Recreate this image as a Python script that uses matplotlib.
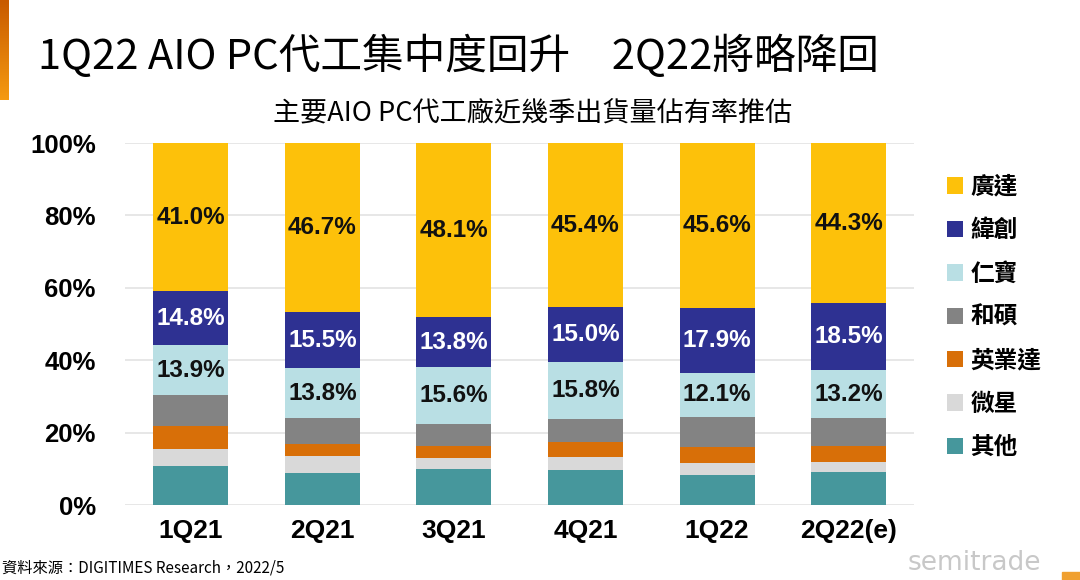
import numpy as np
import matplotlib
matplotlib.use("Agg")
import matplotlib.pyplot as plt
from matplotlib.patches import Rectangle

plt.rcParams["font.family"] = ["Liberation Sans", "Noto Sans CJK TC", "DejaVu Sans"]

quarters = ["1Q21", "2Q21", "3Q21", "4Q21", "1Q22", "2Q22(e)"]
# stacked bottom -> top
others = [10.8, 8.9, 9.9, 9.7, 8.3, 9.0]      # 其他
msi = [4.6, 4.6, 3.0, 3.5, 3.2, 3.0]          # 微星
inventec = [6.3, 3.4, 3.4, 4.3, 4.6, 4.3]     # 英業達
pegatron = [8.6, 7.1, 6.2, 6.3, 8.3, 7.7]     # 和碩
compal = [13.9, 13.8, 15.6, 15.8, 12.1, 13.2]  # 仁寶
wistron = [14.8, 15.5, 13.8, 15.0, 17.9, 18.5]  # 緯創
quanta = [41.0, 46.7, 48.1, 45.4, 45.6, 44.3]  # 廣達

series = [
    ("其他", others, "#46979c", None),
    ("微星", msi, "#d9d9d9", None),
    ("英業達", inventec, "#d86f08", None),
    ("和碩", pegatron, "#838383", None),
    ("仁寶", compal, "#b9dfe4", "#111111"),
    ("緯創", wistron, "#2e3192", "white"),
    ("廣達", quanta, "#fdc10a", "#111111"),
]

fig = plt.figure(figsize=(10.8, 5.8), dpi=100)
ax = fig.add_axes([0.1157, 0.1293, 0.731, 0.6241])

x = np.arange(len(quarters))
bottom = np.zeros(len(quarters))
handles = []
for name, vals, color, txt in series:
    vals = np.array(vals)
    b = ax.bar(x, vals, 0.57, bottom=bottom, color=color, label=name, zorder=3)
    handles.append(b)
    if txt is not None:
        for xi, v, b0 in zip(x, vals, bottom):
            ax.text(xi, b0 + v / 2, f"{v:.1f}%", ha="center", va="center",
                    color=txt, fontsize=17.5, fontweight="bold", zorder=4)
    bottom += vals

ax.set_xlim(-0.5, 5.5)
ax.set_ylim(0, 100)
ax.set_yticks(range(0, 101, 20))
ax.set_yticklabels([f"{v}%" for v in range(0, 101, 20)], fontsize=18.5, fontweight="bold")
ax.set_xticks(x)
ax.set_xticklabels(quarters, fontsize=19, fontweight="bold")
ax.tick_params(length=0)
ax.tick_params(axis="y", pad=21)
ax.tick_params(axis="x", pad=10)
for s in ax.spines.values():
    s.set_visible(False)
ax.yaxis.grid(True, color="#e3e3e3", linewidth=1.2, zorder=0)

leg = fig.legend(handles[::-1], [s[0] for s in series][::-1], loc="upper left",
                 bbox_to_anchor=(0.857, 0.735), frameon=False,
                 handlelength=0.7, handleheight=0.7, handletextpad=0.3,
                 labelspacing=0.82, prop={"family": ["Noto Sans CJK TC"],
                                          "weight": "bold", "size": 17})

fig.text(0.035, 0.903, "1Q22 AIO PC代工集中度回升　2Q22將略降回",
         fontsize=30, family=["Noto Sans CJK TC"], va="center", ha="left")
fig.text(0.493, 0.803, "主要AIO PC代工廠近幾季出貨量佔有率推估",
         fontsize=19.5, family=["Noto Sans CJK TC"], va="center", ha="center")
fig.text(0.002, 0.02, "資料來源：DIGITIMES Research，2022/5",
         fontsize=11, family=["Noto Sans CJK TC"], va="center", ha="left")
fig.text(0.84, 0.03, "semitrade", fontsize=19, color="#c8c8c8",
         family=["DejaVu Sans"], va="center", ha="left")

# orange accent strips
grad = np.linspace(0, 1, 100).reshape(-1, 1)
gax = fig.add_axes([0, 1 - 100 / 580, 9 / 1080, 100 / 580])
gax.imshow(grad, aspect="auto", cmap=matplotlib.colors.LinearSegmentedColormap.from_list(
    "acc", ["#c85a00", "#f59a10"]))
gax.axis("off")
fig.patches.append(Rectangle((1062 / 1080, 0), 18 / 1080, 8 / 580, transform=fig.transFigure,
                             color="#f0a030", zorder=5))

fig.savefig("out.png", dpi=100)
